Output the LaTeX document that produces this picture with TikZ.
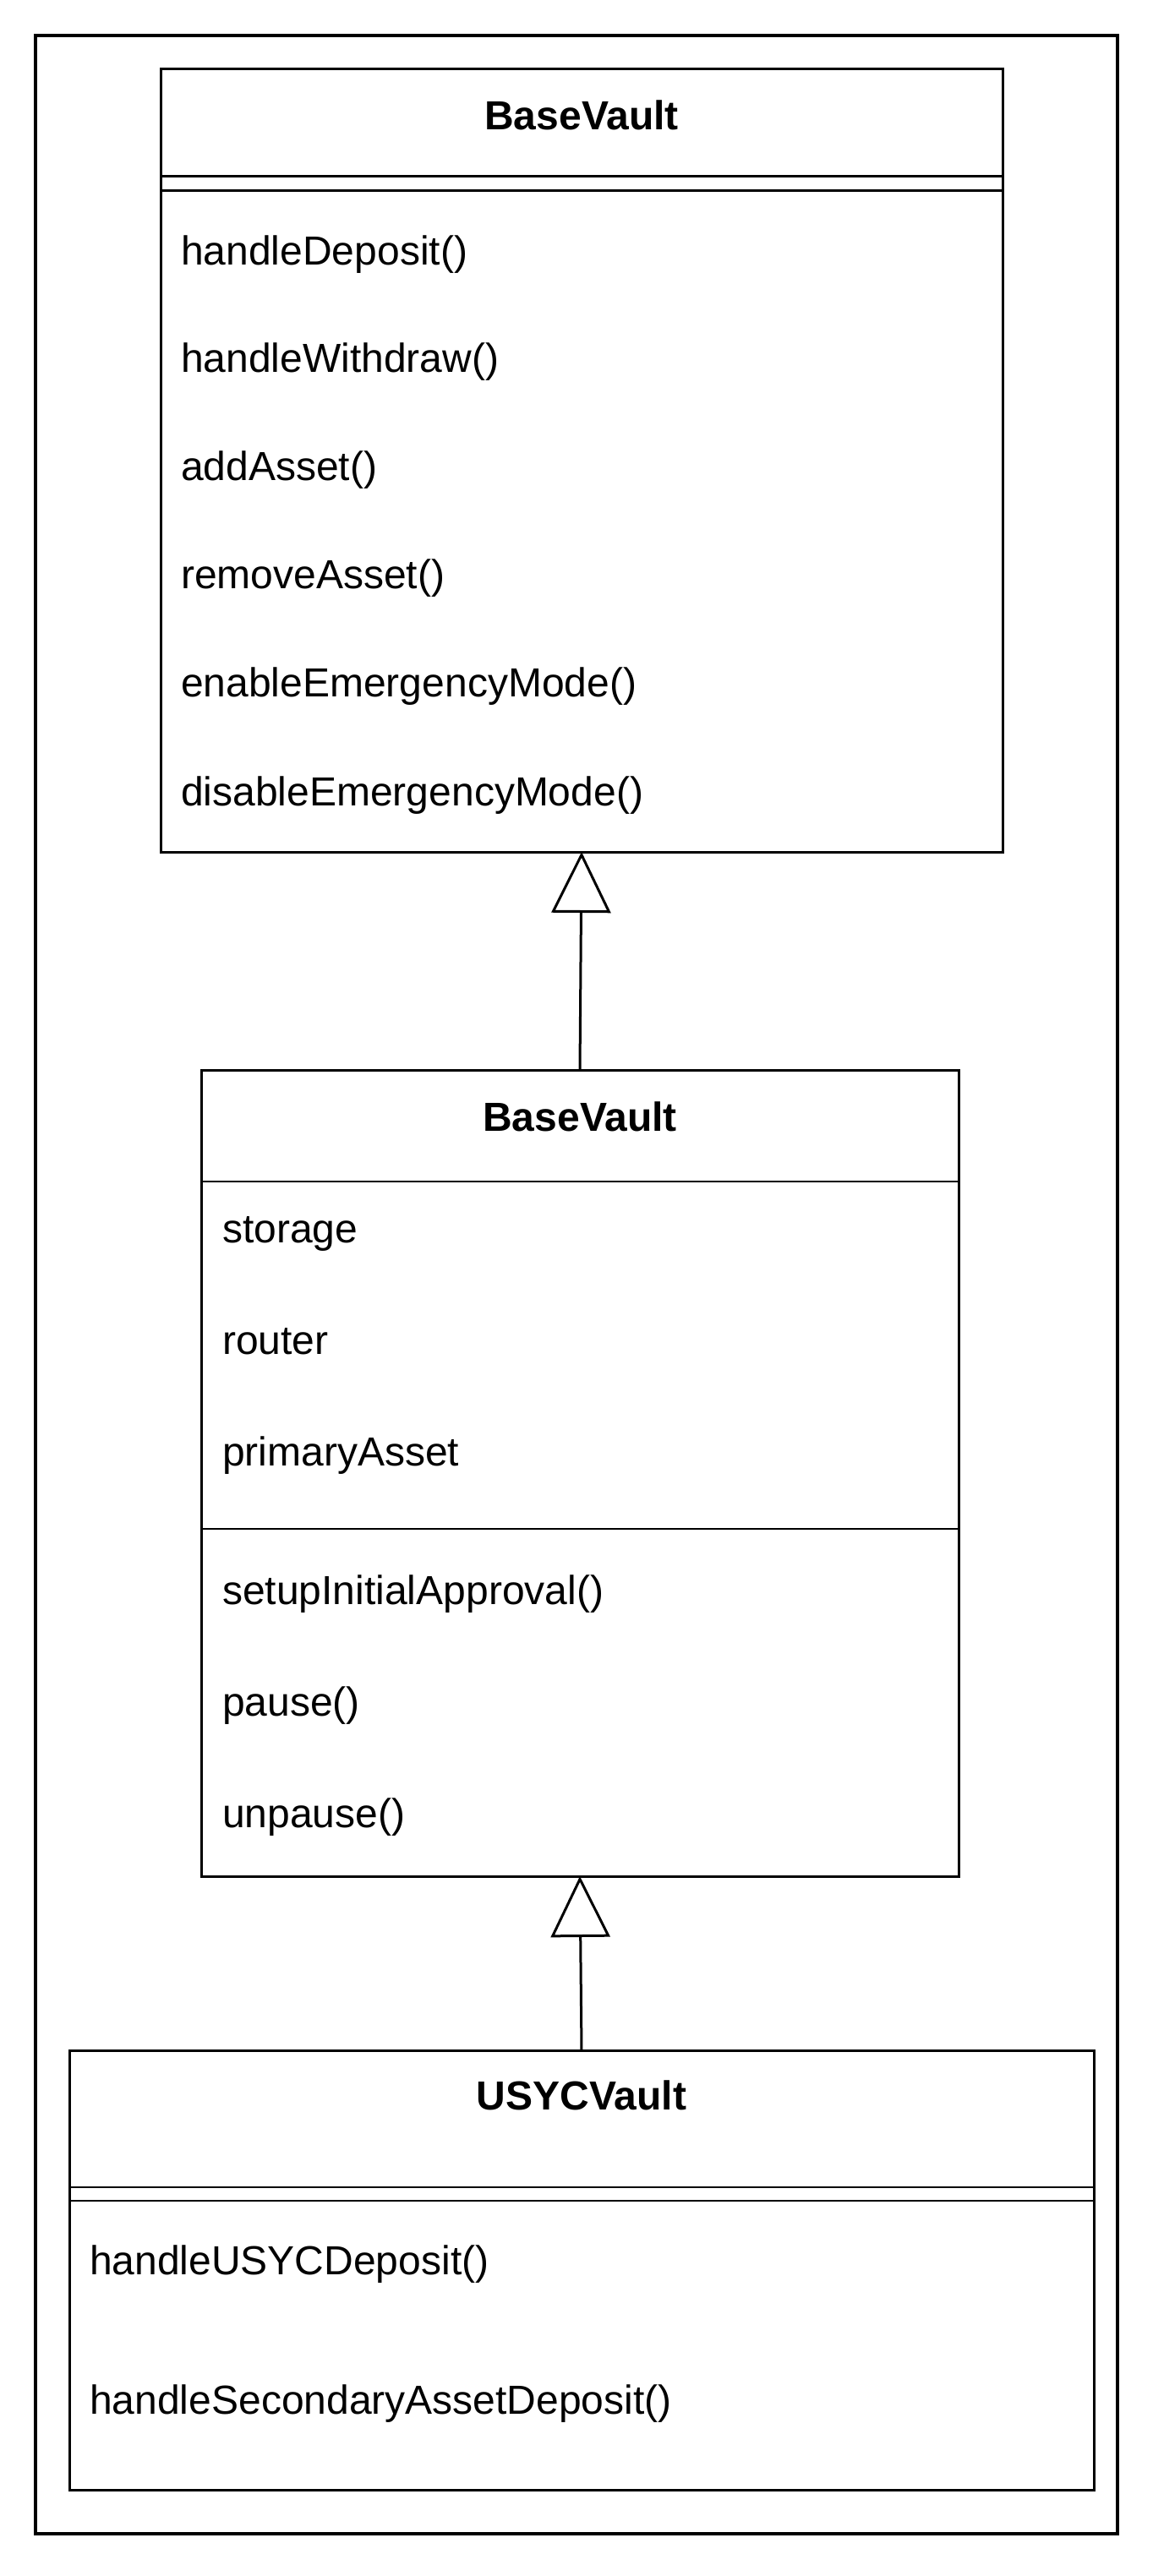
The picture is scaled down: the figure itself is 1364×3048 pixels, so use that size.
\documentclass[tikz,border=0pt]{standalone}
\usepackage{fontspec}
\setmainfont{Liberation Sans}
\usetikzlibrary{arrows.meta}
\tikzset{
  frame/.style={draw=black, line width=3.3pt, fill=none, inner sep=0pt, outer sep=0pt, anchor=north west},
  classbox/.style={draw=black, line width=3pt, fill=white, inner sep=0pt, outer sep=0pt, anchor=north west},
  sepline/.style={draw=black, line width=3pt},
  thinsep/.style={draw=black, line width=2.8pt},
  title/.style={font=\fontsize{48}{58}\selectfont\bfseries, anchor=base, inner sep=0pt},
  member/.style={font=\fontsize{48}{58}\selectfont, anchor=base west, inner sep=0pt},
  inherit/.style={draw=black, line width=3pt, -{Triangle[open, length=72pt, width=70pt, line width=3pt]}}
}
\begin{document}
\begin{tikzpicture}[x=1pt, y=-1pt]
\useasboundingbox (0,0) rectangle (1364,3048);
% outer frame
\node[frame, minimum width=1280pt, minimum height=2956pt] (frm) at (42,42) {};

% ---------- Box 1 ----------
\node[classbox, minimum width=996pt, minimum height=926pt] (b1) at (190,82) {};
\draw[sepline] (b1.west |- 0,209) -- (b1.east |- 0,209);
\draw[sepline] (b1.west |- 0,225) -- (b1.east |- 0,225);
\node[title] (b1t) at (688,154) {BaseVault};
\node[member] (b1m1) at (214,313) {handleDeposit()};
\node[member] (b1m2) at (214,440) {handleWithdraw()};
\node[member] (b1m3) at (214,568) {addAsset()};
\node[member] (b1m4) at (214,696) {removeAsset()};
\node[member] (b1m5) at (214,824) {enableEmergencyMode()};
\node[member] (b1m6) at (214,953) {disableEmergencyMode()};

% ---------- Box 2 ----------
\node[classbox, minimum width=896pt, minimum height=954pt] (b2) at (238,1266) {};
\draw[thinsep] (b2.west |- 0,1398) -- (b2.east |- 0,1398);
\draw[thinsep] (b2.west |- 0,1809) -- (b2.east |- 0,1809);
\node[title] (b2t) at (686,1338) {BaseVault};
\node[member] (b2a1) at (263,1470) {storage};
\node[member] (b2a2) at (263,1602) {router};
\node[member] (b2a3) at (263,1734) {primaryAsset};
\node[member] (b2m1) at (263,1898) {setupInitialApproval()};
\node[member] (b2m2) at (263,2030) {pause()};
\node[member] (b2m3) at (263,2162) {unpause()};

% ---------- Box 3 ----------
\node[classbox, minimum width=1212pt, minimum height=520pt] (b3) at (82,2426) {};
\draw[thinsep] (b3.west |- 0,2588) -- (b3.east |- 0,2588);
\draw[thinsep] (b3.west |- 0,2604) -- (b3.east |- 0,2604);
\node[title] (b3t) at (688,2496) {USYCVault};
\node[member] (b3m1) at (106,2691) {handleUSYCDeposit()};
\node[member] (b3m2) at (106,2856) {handleSecondaryAssetDeposit()};

% ---------- Inheritance connectors ----------
\coordinate (b2top) at (686,1266);
\coordinate (b1bot) at (688,1008);
\coordinate (b3top) at (688,2426);
\coordinate (b2bot) at (686,2220);
\draw[inherit] (b2top) -- (b1bot);
\draw[inherit] (b3top) -- (b2bot);
\end{tikzpicture}
\end{document}
